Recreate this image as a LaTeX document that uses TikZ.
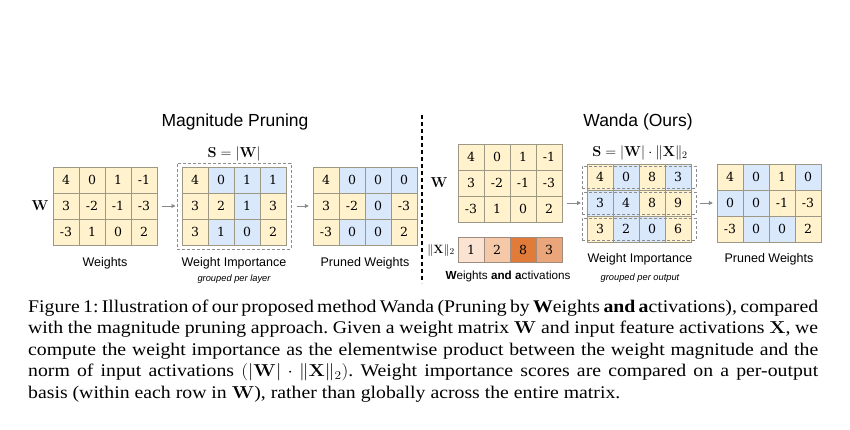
\documentclass[tikz,border=0pt]{standalone}
\usepackage[no-math]{fontspec}
\usepackage{graphicx}
\setmainfont{Liberation Serif}
\newfontfamily\lsans{Liberation Sans}
\newfontfamily\dserif{DejaVu Serif}
\usetikzlibrary{arrows.meta}
\definecolor{cy}{HTML}{FFF2CC}
\definecolor{cb}{HTML}{DAE8FC}
\definecolor{cellbd}{HTML}{9C9884}
\definecolor{xa}{HTML}{FBE3D3}
\definecolor{xb}{HTML}{F5C8A8}
\definecolor{xc}{HTML}{E07B39}
\definecolor{xd}{HTML}{EBA57A}
\definecolor{xbd}{HTML}{A08C7E}
\definecolor{dashgray}{HTML}{8C8C8C}
\definecolor{arrgray}{HTML}{8A8A8A}
\tikzset{
  cell/.style={draw=cellbd, line width=0.8pt, minimum width=26pt, minimum height=26pt, inner sep=0pt, font=\dserif\fontsize{12.5}{14}\selectfont},
  xcell/.style={draw=xbd, line width=0.8pt, minimum width=26pt, minimum height=25pt, inner sep=0pt, font=\dserif\fontsize{12.5}{14}\selectfont},
  ghost/.style={minimum width=104pt, minimum height=78pt, inner sep=0pt},
  dbox/.style={draw=dashgray, line width=1pt, dash pattern=on 3pt off 2pt, inner sep=0pt},
  arr/.style={draw=arrgray, line width=0.9pt, -{Triangle[length=4pt,width=4pt]}},
  lbl/.style={font=\lsans\fontsize{12.5}{14}\selectfont, inner sep=0pt, anchor=base},
  ttl/.style={font=\lsans\fontsize{17.5}{20}\selectfont, inner sep=0pt, anchor=base},
  sml/.style={font=\lsans\itshape\fontsize{9.3}{11}\selectfont, inner sep=0pt, anchor=base},
  mth/.style={font=\fontsize{13.5}{15}\selectfont, inner sep=0pt},
  smth/.style={font=\fontsize{14.5}{16}\selectfont, inner sep=0pt, anchor=base},
}
\newcommand\mymat[4]{%
  \foreach \v/\c [count=\k from 0] in {#4} {%
    \pgfmathtruncatemacro\mcol{mod(\k,4)}%
    \pgfmathtruncatemacro\mrow{div(\k,4)}%
    \node[cell, fill=\c] (#1-\mrow-\mcol) at ({#2+13+26*\mcol},{#3+13+26*\mrow}) {\v};
  }%
  \node[ghost] (#1) at (#2+52,#3+39) {};%
}
\newcommand\capxs{1.11}
\newcommand\capline[1]{\scalebox{\capxs}[1]{\makebox[711.7pt][s]{#1}}\par}
\newcommand\caplast[1]{\scalebox{\capxs}[1]{#1}\par}
\begin{document}
\begin{tikzpicture}[x=1pt,y=-1pt]
\useasboundingbox (0,0) rectangle (850,429);
\fill[white] (0,0) rectangle (850,429);

% ---------- Magnitude pruning ----------
\node[ttl] (ttlmag) at (235,126) {Magnitude Pruning};
\mymat{mw}{53}{167}{4/cy,0/cy,1/cy,-1/cy,3/cy,-2/cy,-1/cy,-3/cy,-3/cy,1/cy,0/cy,2/cy}
\node[mth] (mwlbl) at (40,206) {$\mathbf{W}$};
\node[lbl] (mwtxt) at (105,266) {Weights};

\mymat{ms}{182}{167}{4/cy,0/cb,1/cb,1/cb,3/cy,2/cy,1/cb,3/cy,3/cy,1/cb,0/cb,2/cy}
\node[dbox, minimum width=114pt, minimum height=86pt] (msbox) at (234,206) {};
\node[smth] (mslbl) at (234,157) {$\mathbf{S}=|\mathbf{W}|$};
\node[lbl] (mstxt) at (234,266) {Weight Importance};
\node[sml] (msgrp) at (234,281.5) {grouped per layer};

\mymat{mp}{313}{167}{4/cy,0/cb,0/cb,0/cb,3/cy,-2/cy,0/cb,-3/cy,-3/cy,0/cb,0/cb,2/cy}
\node[lbl] (mptxt) at (365,266) {Pruned Weights};

\draw[arr, shorten <=5pt, shorten >=1pt] (mw) -- (msbox);
\draw[arr, shorten <=5pt, shorten >=4pt] (msbox) -- (mp);

% ---------- divider ----------
\coordinate (divtop) at (422,115);
\coordinate (divbot) at (422,283);
\draw[black, line width=1.1pt, dash pattern=on 4pt off 3pt] (divtop) -- (divbot);

% ---------- Wanda ----------
\node[ttl] (ttlwanda) at (638,126.5) {Wanda (Ours)};
\mymat{ww}{458}{144}{4/cy,0/cy,1/cy,-1/cy,3/cy,-2/cy,-1/cy,-3/cy,-3/cy,1/cy,0/cy,2/cy}
\node[mth] (wwlbl) at (439,183) {$\mathbf{W}$};
\foreach \v/\c [count=\k from 0] in {1/xa,2/xb,8/xc,3/xd} {
  \node[xcell, fill=\c] (wx-\k) at ({471+26*\k},249.5) {\v};
}
\node[mth, font=\fontsize{13}{15}\selectfont] (wxlbl) at (441,250) {$\|\mathbf{X}\|_2$};
\node[lbl, font=\lsans\fontsize{11.7}{13}\selectfont] (wwtxt) at (508,279.5) {\textbf{W}eights \textbf{and} \textbf{a}ctivations};

\mymat{ws}{587}{164}{4/cy,0/cb,8/cy,3/cb,3/cb,4/cb,8/cy,9/cy,3/cy,2/cb,0/cb,6/cy}
\foreach \r in {0,1,2} {
  \node[dbox, minimum width=114pt, minimum height=22pt] (wsr\r) at (639,{177+26*\r}) {};
}
\node[smth] (wslbl) at (640,156) {$\mathbf{S}=|\mathbf{W}|\cdot\|\mathbf{X}\|_2$};
\node[lbl] (wstxt) at (640,262.5) {Weight Importance};
\node[sml] (wsgrp) at (640,280.5) {grouped per output};

\mymat{wp}{717}{164}{4/cy,0/cb,1/cy,0/cb,0/cb,0/cb,-1/cy,-3/cy,-3/cy,0/cb,0/cb,2/cy}
\node[lbl] (wptxt) at (769,262.5) {Pruned Weights};

\draw[arr, shorten <=5pt, shorten >=0.5pt] (ww.east |- wsr1.west) -- (wsr1.west);
\draw[arr, shorten <=3pt, shorten >=4pt] (wsr1.east) -- (wp.west |- wsr1.east);

% ---------- caption ----------
\node[anchor=base west, inner sep=0pt] (cap) at (28,312) {\parbox[t]{790pt}{\fontsize{17.8}{21.5}\selectfont\frenchspacing
\capline{Figure 1: Illustration of our proposed method Wanda (Pruning by {\bfseries W}eights {\bfseries and} {\bfseries a}ctivations), compared}
\capline{with the magnitude pruning approach. Given a weight matrix $\mathbf{W}$ and input feature activations $\mathbf{X}$, we}
\capline{compute the weight importance as the elementwise product between the weight magnitude and the}
\capline{norm of input activations $(|\mathbf{W}|\cdot\|\mathbf{X}\|_2)$. Weight importance scores are compared on a per-output}
\caplast{basis (within each row in $\mathbf{W}$), rather than globally across the entire matrix.}}};
\end{tikzpicture}
\end{document}
